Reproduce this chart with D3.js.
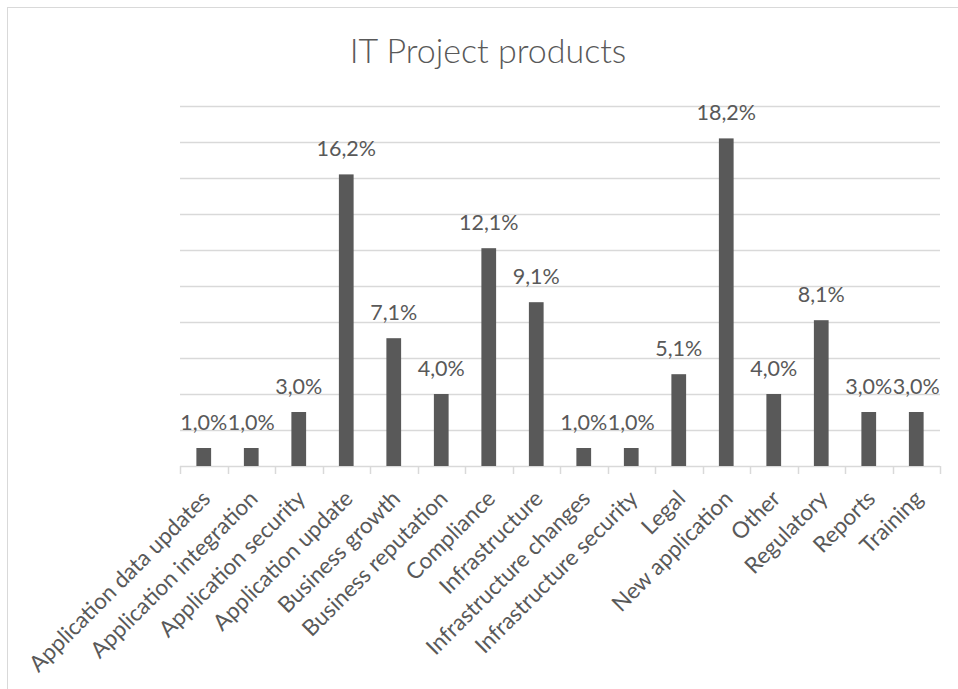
<!DOCTYPE html>
<html>
<head>
<meta charset="utf-8">
<script src="https://cdn.jsdelivr.net/npm/d3@7"></script>
<style>
  html, body { margin: 0; padding: 0; background: #ffffff; }
  svg { display: block; }
  text { font-family: Lato, "Open Sans", "Liberation Sans", sans-serif; fill: #595959; }
</style>
</head>
<body>
<svg id="chart" width="958" height="689"></svg>
<script>
// Share of IT project products by category
const categories = [
  "Application data updates", "Application integration", "Application security",
  "Application update", "Business growth", "Business reputation", "Compliance",
  "Infrastructure", "Infrastructure changes", "Infrastructure security", "Legal",
  "New application", "Other", "Regulatory", "Reports", "Training"
];
const shares = [
  0.010, 0.010, 0.030, 0.162, 0.071, 0.040, 0.121, 0.091,
  0.010, 0.010, 0.051, 0.182, 0.040, 0.081, 0.030, 0.030
];
const gridTicks = [0.02, 0.04, 0.06, 0.08, 0.10, 0.12, 0.14, 0.16, 0.18, 0.20];
const title = "IT Project products";

const svg = d3.select("#chart");

// chart frame (left and top edges visible)
svg.append("rect")
  .attr("x", 7.5).attr("y", 7.5)
  .attr("width", 1000).attr("height", 1000)
  .attr("fill", "none").attr("stroke", "#d9d9d9").attr("stroke-width", 1);

const plot = { left: 180, right: 940, top: 106, bottom: 466 };

const y = d3.scaleLinear().domain([0, 0.20]).range([plot.bottom, plot.top]);
const xSlots = d3.scaleBand().domain(categories).range([plot.left, plot.right]).padding(0);
const xBars = d3.scaleBand().domain(categories).range([plot.left, plot.right])
  .paddingInner(0.69).paddingOuter(0.345);

// horizontal gridlines
svg.append("g").selectAll("line").data(gridTicks).join("line")
  .attr("x1", plot.left).attr("x2", plot.right)
  .attr("y1", d => Math.round(y(d)) + 0.5).attr("y2", d => Math.round(y(d)) + 0.5)
  .attr("stroke", "#d9d9d9").attr("stroke-width", 1.5);

// category axis with tick marks between categories
const axisG = svg.append("g");
axisG.append("line")
  .attr("x1", plot.left).attr("x2", plot.right)
  .attr("y1", plot.bottom + 0.5).attr("y2", plot.bottom + 0.5)
  .attr("stroke", "#d9d9d9").attr("stroke-width", 1.5);
const boundaries = categories.map(c => xSlots(c)).concat([plot.right]);
axisG.selectAll("line.tick").data(boundaries).join("line")
  .attr("class", "tick")
  .attr("x1", d => Math.round(d) + 0.5).attr("x2", d => Math.round(d) + 0.5)
  .attr("y1", plot.bottom).attr("y2", plot.bottom + 8)
  .attr("stroke", "#d9d9d9").attr("stroke-width", 1.5);

// bars
svg.append("g").selectAll("rect").data(categories).join("rect")
  .attr("x", c => xBars(c))
  .attr("width", xBars.bandwidth())
  .attr("y", (c, i) => y(shares[i]))
  .attr("height", (c, i) => y(0) - y(shares[i]))
  .attr("fill", "#595959");

// value labels with decimal comma
const fmt = d3.formatLocale({ decimal: ",", thousands: ".", grouping: [3], currency: ["", ""] }).format(".1%");
svg.append("g").selectAll("text").data(categories).join("text")
  .attr("x", c => xBars(c) + xBars.bandwidth() / 2)
  .attr("y", (c, i) => y(shares[i]) - 18)
  .attr("text-anchor", "middle")
  .style("font-size", "21.5px")
  .text((c, i) => fmt(shares[i]));

// rotated category labels
svg.append("g").selectAll("text").data(categories).join("text")
  .attr("transform", c => `translate(${xSlots(c) + xSlots.bandwidth() / 2 + 8},500) rotate(-45)`)
  .attr("text-anchor", "end")
  .style("font-size", "22.5px")
  .text(c => c);

// title
svg.append("text")
  .attr("x", 488).attr("y", 63)
  .attr("text-anchor", "middle")
  .style("font-size", "34px")
  .style("font-weight", 300)
  .text(title);
</script>
</body>
</html>
